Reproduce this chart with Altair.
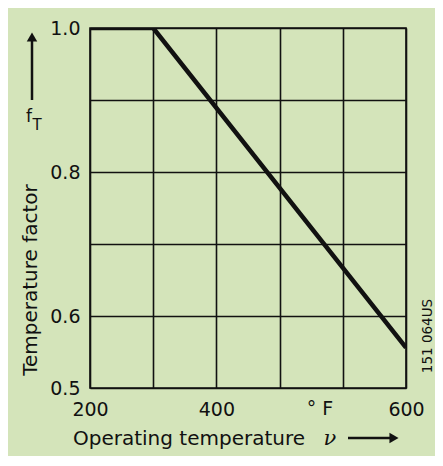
import altair as alt
import pandas as pd

# data (°F on x, temperature factor f_T on y)
temps = [200, 300, 600]
factors = [1.0, 1.0, 0.556]
# the drawing's x axis is not uniform: 200→400 spans two grid cells, 400→600 spans three
x_scale_domain = [200, 400, 600]
x_grid = [200, 300, 400, 400 + 200 / 3, 400 + 400 / 3, 600]
x_labelled = [200, 400, 600]
y_ticks = [0.5, 0.6, 0.7, 0.8, 0.9, 1.0]
y_labelled = ["1.0", "0.8", "0.6", "0.5"]

W, H = 316, 360
BG = "#d4e4ba"
FONT = "DejaVu Sans"
INK = "#111111"

df = pd.DataFrame({"t": temps, "f": factors})

line = alt.Chart(df).mark_line(color=INK, strokeWidth=4.5, strokeCap="butt", clip=True).encode(
    x=alt.X("t:Q", scale=alt.Scale(domain=x_scale_domain, range=[0, W * 2 / 5, W], nice=False, zero=False),
            axis=alt.Axis(values=x_grid, title=None, ticks=False, domain=False, labelFlush=False,
                          labelExpr="indexof(%s, datum.value) >= 0 ? datum.label : ''" % str(x_labelled),
                          labelPadding=12, labelFontSize=19, labelFont=FONT, labelColor=INK,
                          grid=True, gridColor=INK, gridWidth=1.6, gridOpacity=1)),
    y=alt.Y("f:Q", scale=alt.Scale(domain=[0.5, 1.0], nice=False, zero=False),
            axis=alt.Axis(values=y_ticks, title=None, ticks=False, domain=False, labelFlush=False,
                          labelExpr="indexof(%s, format(datum.value, '.1f')) >= 0 ? format(datum.value, '.1f') : ''" % str(y_labelled),
                          labelPadding=10, labelFontSize=19, labelFont=FONT, labelColor=INK,
                          grid=True, gridColor=INK, gridWidth=1.6, gridOpacity=1)),
)

def txt(s, x, y, size=20, angle=0, align="left", baseline="alphabetic", font=FONT, style="normal"):
    return alt.Chart(pd.DataFrame({"s": [s]})).mark_text(
        align=align, baseline=baseline, fontSize=size, font=font, color=INK,
        angle=angle, fontStyle=style
    ).encode(x=alt.value(x), y=alt.value(y), text="s:N")

one = pd.DataFrame({"a": [0]})

unit = txt("° F", 230, 387, size=19, align="center")

y_title = txt("Temperature factor", -59, 252, size=20, angle=270, align="center", baseline="middle")
f_sym = txt("f", -61, 94, size=17, align="center")
t_sub = txt("T", -53, 102, size=15, align="center")
up_shaft = alt.Chart(one).mark_rule(color=INK, strokeWidth=2.5).encode(
    x=alt.value(-58), y=alt.value(12), y2=alt.value(72))
up_head = alt.Chart(one).mark_point(shape="triangle-up", filled=True, color=INK, size=110, opacity=1).encode(
    x=alt.value(-58), y=alt.value(9))

x_title = txt("Operating temperature", -17, 417, size=20)
nu = txt("ν", 240, 417, size=21, align="center", font="DejaVu Serif", style="italic")
r_shaft = alt.Chart(one).mark_rule(color=INK, strokeWidth=2.5).encode(
    x=alt.value(258), x2=alt.value(302), y=alt.value(410))
r_head = alt.Chart(one).mark_point(shape="triangle-right", filled=True, color=INK, size=110, opacity=1).encode(
    x=alt.value(304), y=alt.value(410))

code = txt("151 064US", 338, 308, size=13.5, angle=270, align="center", baseline="middle")

chart = alt.layer(
    line, unit, y_title, f_sym, t_sub, up_shaft, up_head, x_title, nu, r_shaft, r_head, code
).properties(
    width=W, height=H,
    padding={"left": 82, "top": 20, "right": 29, "bottom": 68},
    autosize=alt.AutoSizeParams(type="none"),
    background=BG,
).configure_view(stroke=INK, strokeWidth=1.6)

chart.save("out.html", embed_options={"renderer": "svg", "actions": False})
